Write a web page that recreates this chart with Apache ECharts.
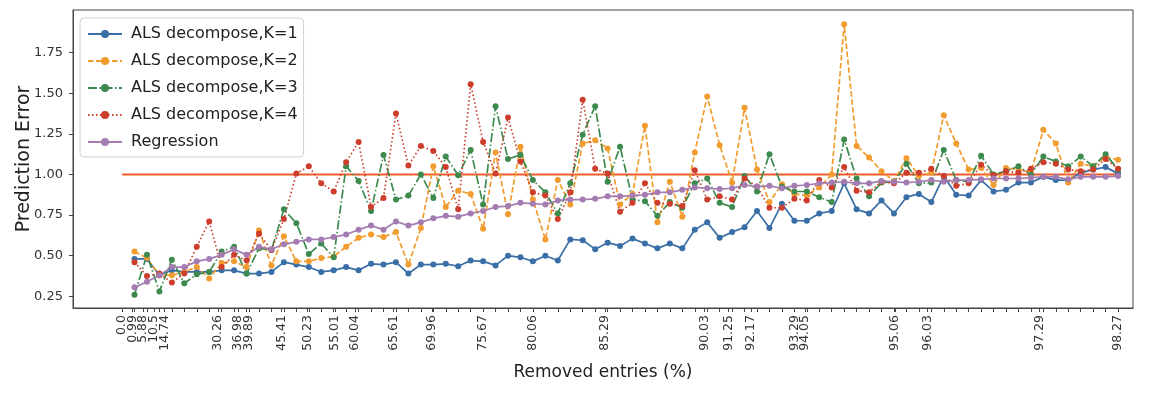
<!DOCTYPE html>
<html>
<head>
<meta charset="utf-8">
<title>Prediction Error vs Removed entries</title>
<script src="https://cdn.jsdelivr.net/npm/echarts@6/dist/echarts.min.js"></script>
<style>
  html, body { margin: 0; padding: 0; background: #fff; }
  #chart { width: 1154px; height: 400px; }
</style>
</head>
<body>
<div id="chart"></div>
<script>
// x labels (removed entries %) and where they sit on the step axis
var tickLabels = ['0.0', '0.99', '5.88', '10.5', '14.74', '30.26', '36.98', '39.89', '45.41', '50.23',
  '55.01', '60.04', '65.61', '69.96', '75.67', '80.06', '85.29', '90.03', '91.25', '92.17',
  '93.29', '94.05', '95.06', '96.03', '97.29', '98.27'];
var tickPos = [0, 0.85, 1.7, 2.55, 3.4, 7.7, 9.3, 10.2, 12.8, 14.9,
  17.1, 18.7, 21.8, 24.9, 29.0, 33.0, 38.8, 46.8, 48.7, 50.5,
  54.0, 54.85, 62.1, 64.7, 73.7, 80];
var yTicks = [0.25, 0.5, 0.75, 1.0, 1.25, 1.5, 1.75];

// one value per step, steps 1..80
var als1 = [0.48, 0.48, 0.38, 0.41, 0.40, 0.40, 0.40, 0.41, 0.41, 0.39,
  0.39, 0.40, 0.46, 0.445, 0.43, 0.40, 0.41, 0.43, 0.41, 0.45,
  0.445, 0.46, 0.39, 0.445, 0.445, 0.45, 0.435, 0.47, 0.465, 0.44,
  0.50, 0.49, 0.465, 0.50, 0.47, 0.60, 0.595, 0.54, 0.58, 0.56,
  0.605, 0.575, 0.545, 0.575, 0.545, 0.66, 0.705, 0.61, 0.645, 0.675,
  0.775, 0.67, 0.82, 0.715, 0.715, 0.76, 0.775, 0.945, 0.785, 0.76,
  0.84, 0.76, 0.86, 0.88, 0.83, 0.99, 0.875, 0.87, 0.965, 0.895,
  0.905, 0.95, 0.95, 0.985, 0.965, 0.965, 1.01, 1.03, 1.045, 1.005];
var als2 = [0.525, 0.485, 0.38, 0.38, 0.40, 0.43, 0.36, 0.455, 0.465, 0.43,
  0.655, 0.44, 0.62, 0.465, 0.465, 0.485, 0.495, 0.555, 0.61, 0.63,
  0.615, 0.645, 0.445, 0.67, 1.05, 0.80, 0.90, 0.88, 0.665, 1.135,
  0.755, 1.17, 0.845, 0.60, 0.965, 0.815, 1.19, 1.21, 1.16, 0.815,
  0.88, 1.30, 0.705, 0.955, 0.74, 1.135, 1.48, 1.18, 0.95, 1.41,
  1.03, 0.83, 0.94, 0.88, 0.87, 0.92, 1.0, 1.925, 1.175, 1.105,
  1.02, 0.96, 1.10, 0.99, 1.01, 1.365, 1.19, 1.03, 1.04, 0.935,
  1.04, 1.03, 1.015, 1.275, 1.19, 0.95, 1.065, 1.05, 1.11, 1.09];
var als3 = [0.26, 0.505, 0.28, 0.475, 0.33, 0.385, 0.40, 0.525, 0.555, 0.39,
  0.545, 0.535, 0.785, 0.70, 0.51, 0.575, 0.49, 1.05, 0.96, 0.775,
  1.12, 0.845, 0.87, 1.0, 0.855, 1.11, 0.995, 1.15, 0.815, 1.42,
  1.095, 1.12, 0.965, 0.89, 0.76, 0.945, 1.245, 1.42, 0.955, 1.17,
  0.845, 0.835, 0.745, 0.83, 0.795, 0.945, 0.975, 0.825, 0.80, 0.99,
  0.895, 1.125, 0.925, 0.895, 0.895, 0.86, 0.83, 1.215, 0.975, 0.865,
  0.95, 0.955, 1.065, 0.945, 0.95, 1.15, 0.965, 0.955, 1.115, 1.0,
  1.02, 1.05, 1.0, 1.11, 1.08, 1.05, 1.11, 1.05, 1.125, 1.03];
var als4 = [0.46, 0.375, 0.39, 0.335, 0.39, 0.555, 0.71, 0.43, 0.505, 0.47,
  0.635, 0.535, 0.725, 1.005, 1.05, 0.945, 0.895, 1.075, 1.20, 0.80,
  0.855, 1.375, 1.055, 1.175, 1.145, 1.045, 0.785, 1.555, 1.20, 1.005,
  1.35, 1.08, 0.89, 0.87, 0.725, 0.89, 1.46, 1.035, 1.005, 0.77,
  0.825, 0.945, 0.825, 0.82, 0.805, 1.025, 0.845, 0.865, 0.845, 0.975,
  0.925, 0.795, 0.795, 0.85, 0.84, 0.965, 0.92, 1.045, 0.90, 0.89,
  0.955, 0.945, 1.01, 1.01, 1.035, 0.99, 0.93, 0.945, 1.06, 0.995,
  1.02, 1.01, 1.035, 1.075, 1.065, 1.03, 1.02, 1.03, 1.095, 1.035];
var regression = [0.305, 0.34, 0.38, 0.43, 0.43, 0.465, 0.48, 0.505, 0.54, 0.505,
  0.555, 0.54, 0.57, 0.585, 0.60, 0.60, 0.615, 0.63, 0.66, 0.685,
  0.66, 0.71, 0.685, 0.705, 0.73, 0.745, 0.74, 0.76, 0.775, 0.80,
  0.805, 0.825, 0.82, 0.815, 0.84, 0.845, 0.845, 0.85, 0.865, 0.865,
  0.87, 0.875, 0.89, 0.89, 0.905, 0.92, 0.915, 0.91, 0.915, 0.935,
  0.925, 0.93, 0.915, 0.93, 0.935, 0.945, 0.95, 0.955, 0.945, 0.945,
  0.96, 0.955, 0.95, 0.955, 0.965, 0.955, 0.965, 0.965, 0.97, 0.975,
  0.975, 0.975, 0.98, 0.985, 0.985, 0.97, 0.985, 0.985, 0.985, 0.99];
var baseline = 1.0;
var lastStep = 80;

var font = 'DejaVu Sans';
var xMin = -3.94, xMax = 81.2;

function toPoints(arr) {
  return arr.map(function (v, i) { return [i + 1, v]; });
}

// ticks at every step plus at every labelled position
var stepTicks = [];
for (var s = 0; s <= lastStep; s++) stepTicks.push(s);
var xTickValues = stepTicks.concat(tickPos);
// blank labels at both ends so echarts does not drop the crowded first/last real labels
var xLabelValues = [xMin + 0.05].concat(tickPos, [xMax - 0.05]);

function lineSeries(name, data, color, dash) {
  return {
    name: name,
    type: 'line',
    data: toPoints(data),
    color: color,
    symbol: 'circle',
    symbolSize: 6,
    showAllSymbol: true,
    lineStyle: { width: 1.7, type: dash },
    itemStyle: { color: color },
    z: 3
  };
}

var chart = echarts.init(document.getElementById('chart'));
var option = {
  animation: false,
  textStyle: { fontFamily: font },
  grid: {
    left: 73,
    right: 21,
    top: 10,
    bottom: 92,
    show: true,
    borderColor: '#444',
    borderWidth: 1
  },
  legend: {
    orient: 'vertical',
    left: 80,
    top: 18,
    padding: [8, 6, 7, 7],
    itemWidth: 34,
    itemHeight: 10,
    itemGap: 11,
    borderColor: '#d0d0d0',
    borderWidth: 1,
    borderRadius: 4,
    backgroundColor: 'rgba(255,255,255,0.85)',
    textStyle: { fontFamily: font, fontSize: 16, color: '#222', padding: [0, 0, 0, 4] },
    data: ['ALS decompose,K=1', 'ALS decompose,K=2', 'ALS decompose,K=3', 'ALS decompose,K=4', 'Regression']
  },
  xAxis: {
    type: 'value',
    min: xMin,
    max: xMax,
    name: 'Removed entries (%)',
    nameLocation: 'middle',
    nameGap: 56,
    nameMoveOverlap: false,
    nameTextStyle: { fontFamily: font, fontSize: 17, color: '#222' },
    axisLine: { show: true, onZero: false, lineStyle: { color: '#444' } },
    axisTick: { show: true, length: 4, customValues: xTickValues, lineStyle: { color: '#444' } },
    axisLabel: {
      customValues: xLabelValues,
      hideOverlap: false,
      rotate: 90,
      margin: 7,
      fontSize: 12.5,
      color: '#333',
      fontFamily: font,
      formatter: function (val) {
        for (var i = 0; i < tickPos.length; i++) {
          if (Math.abs(tickPos[i] - val) < 1e-6) return tickLabels[i];
        }
        return '';
      }
    },
    splitLine: { show: false }
  },
  yAxis: {
    type: 'value',
    min: 0.178,
    max: 2.012,
    name: 'Prediction Error',
    nameLocation: 'middle',
    nameGap: 39,
    nameMoveOverlap: false,
    nameTextStyle: { fontFamily: font, fontSize: 19, color: '#222' },
    axisLine: { show: true, onZero: false, lineStyle: { color: '#444' } },
    axisTick: { show: true, length: 4, customValues: yTicks, lineStyle: { color: '#444' } },
    axisLabel: {
      customValues: yTicks,
      margin: 10,
      fontSize: 13,
      color: '#333',
      fontFamily: font,
      formatter: function (v) { return v.toFixed(2); }
    },
    splitLine: { show: false }
  },
  series: [
    {
      name: 'baseline',
      type: 'line',
      data: [[0, baseline], [lastStep, baseline]],
      symbol: 'none',
      color: '#ef5a2b',
      lineStyle: { width: 2, color: '#ef5a2b' },
      silent: true,
      z: 2
    },
    lineSeries('ALS decompose,K=1', als1, '#3a6ea6', 'solid'),
    lineSeries('ALS decompose,K=2', als2, '#f29b2e', [5.5, 2.5]),
    lineSeries('ALS decompose,K=3', als3, '#3c8a4d', [9, 2.5, 1.5, 2.5]),
    lineSeries('ALS decompose,K=4', als4, '#cc3d2c', [1.5, 2.5]),
    lineSeries('Regression', regression, '#a47cb2', 'solid')
  ]
};
chart.setOption(option);
</script>
</body>
</html>
